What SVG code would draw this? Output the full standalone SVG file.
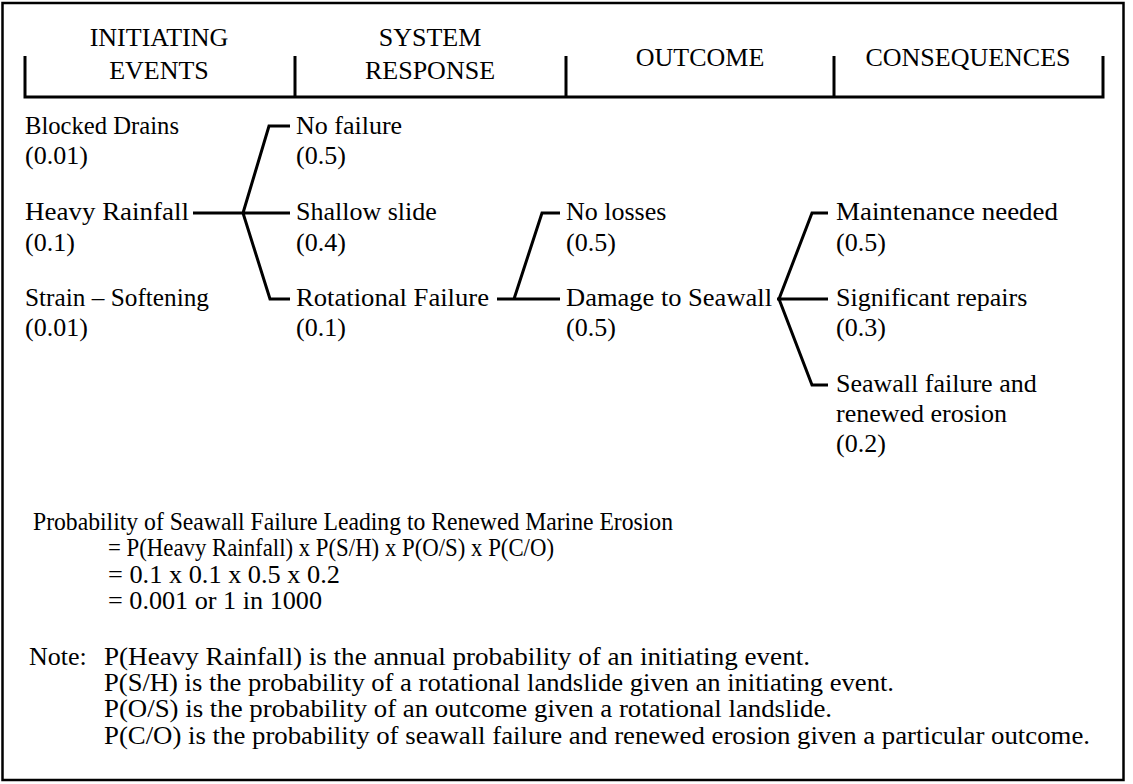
<svg xmlns="http://www.w3.org/2000/svg" width="1133" height="784" viewBox="0 0 1133 784" font-family="'Liberation Serif', Tinos, 'DejaVu Serif', serif">
<style>
text{font-family:'Liberation Serif',Tinos,'DejaVu Serif',serif;font-size:26px;fill:#000}
.h{text-anchor:middle}
.ln{fill:none;stroke:#000;stroke-width:3;stroke-linejoin:miter}
</style>
<rect x="0" y="0" width="1133" height="784" fill="#fff"/>
<rect x="2.5" y="3" width="1121" height="777" fill="none" stroke="#000" stroke-width="2.5"/>
<g id="header">
<path class="ln" d="M25,56 V97 H1103 V56 M295,56 V97 M566,56 V97 M834,56 V97"/>
<text class="h" x="159" y="46">INITIATING</text>
<text class="h" x="159" y="79">EVENTS</text>
<text class="h" x="430" y="46">SYSTEM</text>
<text class="h" x="430" y="79">RESPONSE</text>
<text class="h" x="700" y="66">OUTCOME</text>
<text class="h" x="968" y="66">CONSEQUENCES</text>
</g>
<g id="connectors">
<path class="ln" d="M193,213 H290 M290,126 H269 L243,213 L270,299 H290"/>
<path class="ln" d="M497,299 H560 M560,213 H542 L514,299"/>
<path class="ln" d="M777,299 H828 M828,213 H812 L779,299 L812,385 H828"/>
</g>
<g id="n-blocked"><text x="25" y="134" textLength="154" lengthAdjust="spacingAndGlyphs">Blocked Drains</text><text x="25" y="164">(0.01)</text></g>
<g id="n-heavy"><text x="25" y="220" textLength="164" lengthAdjust="spacingAndGlyphs">Heavy Rainfall</text><text x="25" y="251">(0.1)</text></g>
<g id="n-strain"><text x="25" y="306" textLength="184" lengthAdjust="spacingAndGlyphs">Strain – Softening</text><text x="25" y="336">(0.01)</text></g>
<g id="n-nofail"><text x="296" y="134">No failure</text><text x="296" y="164">(0.5)</text></g>
<g id="n-shallow"><text x="296" y="220">Shallow slide</text><text x="296" y="251">(0.4)</text></g>
<g id="n-rot"><text x="296" y="306" textLength="193" lengthAdjust="spacingAndGlyphs">Rotational Failure</text><text x="296" y="336">(0.1)</text></g>
<g id="n-noloss"><text x="566" y="220">No losses</text><text x="566" y="251">(0.5)</text></g>
<g id="n-damage"><text x="566" y="306" textLength="206" lengthAdjust="spacingAndGlyphs">Damage to Seawall</text><text x="566" y="336">(0.5)</text></g>
<g id="n-maint"><text x="836" y="220" textLength="222" lengthAdjust="spacingAndGlyphs">Maintenance needed</text><text x="836" y="251">(0.5)</text></g>
<g id="n-sig"><text x="836" y="306">Significant repairs</text><text x="836" y="336">(0.3)</text></g>
<g id="n-seawall"><text x="836" y="392">Seawall failure and</text><text x="836" y="422">renewed erosion</text><text x="836" y="452">(0.2)</text></g>
<g id="formula">
<text x="33" y="530" textLength="640" lengthAdjust="spacingAndGlyphs">Probability of Seawall Failure Leading to Renewed Marine Erosion</text>
<text x="108" y="556" textLength="446" lengthAdjust="spacingAndGlyphs">= P(Heavy Rainfall) x P(S/H) x P(O/S) x P(C/O)</text>
<text x="108" y="583" textLength="232" lengthAdjust="spacingAndGlyphs">= 0.1 x 0.1 x 0.5 x 0.2</text>
<text x="108" y="609" textLength="214" lengthAdjust="spacingAndGlyphs">= 0.001 or 1 in 1000</text>
</g>
<g id="note">
<text x="29" y="665">Note:</text>
<text x="104" y="665" textLength="706" lengthAdjust="spacingAndGlyphs">P(Heavy Rainfall) is the annual probability of an initiating event.</text>
<text x="104" y="691" textLength="790" lengthAdjust="spacingAndGlyphs">P(S/H) is the probability of a rotational landslide given an initiating event.</text>
<text x="104" y="717" textLength="728" lengthAdjust="spacingAndGlyphs">P(O/S) is the probability of an outcome given a rotational landslide.</text>
<text x="104" y="744" textLength="986" lengthAdjust="spacingAndGlyphs">P(C/O) is the probability of seawall failure and renewed erosion given a particular outcome.</text>
</g>
</svg>
